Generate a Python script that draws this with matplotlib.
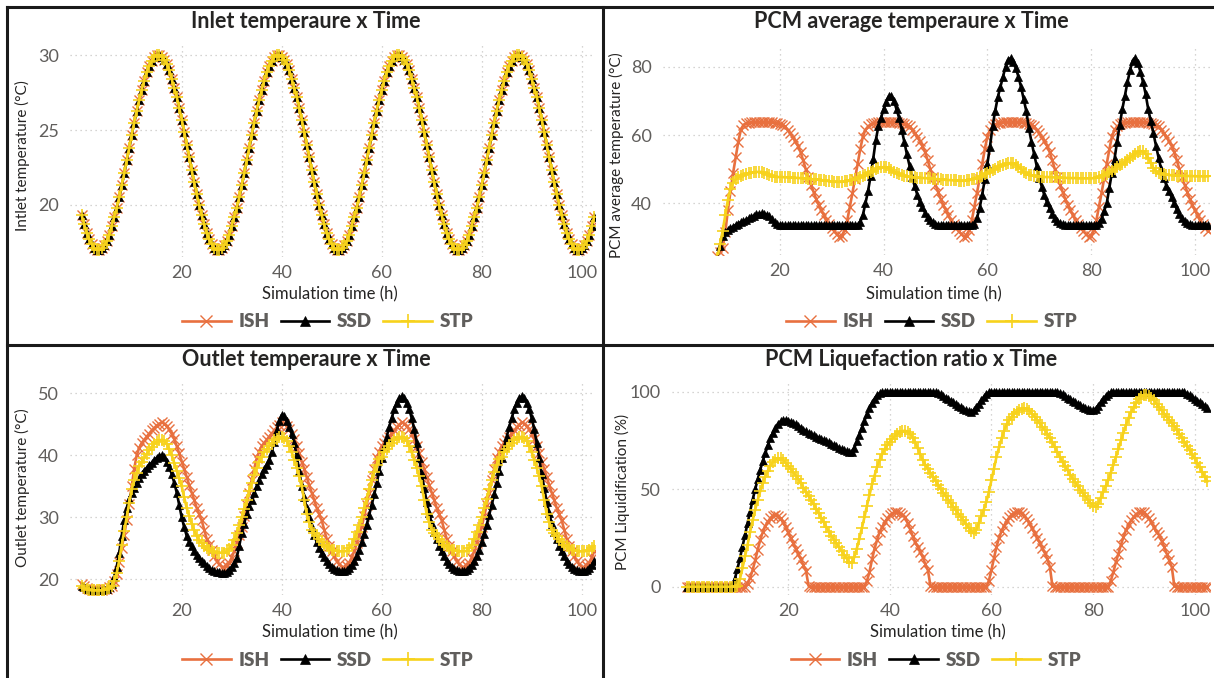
import numpy as np
import matplotlib
matplotlib.use("Agg")
import matplotlib.pyplot as plt
from matplotlib.lines import Line2D

plt.rcParams['font.family'] = ['Lato', 'DejaVu Sans']

# simulation time, one sample every half hour
hours = np.arange(0, 103, 0.5)

series_names = ['ISH', 'SSD', 'STP']

# inlet temperature (same for the three strategies)
inlet_ish = [
    19.3, 18.7, 18.1, 17.7, 17.4, 17.1, 17.0, 17.0, 17.1, 17.3, 17.6, 18.0, 18.6, 19.2, 19.8, 20.5, 21.3, 22.1, 23.0, 23.8, 24.7, 25.5, 26.3, 27.0,
    27.7, 28.3, 28.9, 29.3, 29.6, 29.9, 30.0, 30.0, 29.9, 29.7, 29.4, 29.0, 28.4, 27.8, 27.2, 26.5, 25.7, 24.9, 24.0, 23.2, 22.3, 21.5, 20.7, 20.0,
    19.3, 18.7, 18.1, 17.7, 17.4, 17.1, 17.0, 17.0, 17.1, 17.3, 17.6, 18.0, 18.6, 19.2, 19.8, 20.5, 21.3, 22.1, 23.0, 23.8, 24.7, 25.5, 26.3, 27.0,
    27.7, 28.3, 28.9, 29.3, 29.6, 29.9, 30.0, 30.0, 29.9, 29.7, 29.4, 29.0, 28.4, 27.8, 27.2, 26.5, 25.7, 24.9, 24.0, 23.2, 22.3, 21.5, 20.7, 20.0,
    19.3, 18.7, 18.1, 17.7, 17.4, 17.1, 17.0, 17.0, 17.1, 17.3, 17.6, 18.0, 18.6, 19.2, 19.8, 20.5, 21.3, 22.1, 23.0, 23.8, 24.7, 25.5, 26.3, 27.0,
    27.7, 28.3, 28.9, 29.3, 29.6, 29.9, 30.0, 30.0, 29.9, 29.7, 29.4, 29.0, 28.4, 27.8, 27.2, 26.5, 25.7, 24.9, 24.0, 23.2, 22.3, 21.5, 20.7, 20.0,
    19.3, 18.7, 18.1, 17.7, 17.4, 17.1, 17.0, 17.0, 17.1, 17.3, 17.6, 18.0, 18.6, 19.2, 19.8, 20.5, 21.3, 22.1, 23.0, 23.8, 24.7, 25.5, 26.3, 27.0,
    27.7, 28.3, 28.9, 29.3, 29.6, 29.9, 30.0, 30.0, 29.9, 29.7, 29.4, 29.0, 28.4, 27.8, 27.2, 26.5, 25.7, 24.9, 24.0, 23.2, 22.3, 21.5, 20.7, 20.0,
    19.3, 18.7, 18.1, 17.7, 17.4, 17.1, 17.0, 17.0, 17.1, 17.3, 17.6, 18.0, 18.6, 19.2,
]
inlet_ssd = list(inlet_ish)
inlet_stp = list(inlet_ish)

# outlet temperature
outlet_ish = [
    19.3, 18.9, 18.6, 18.4, 18.3, 18.3, 18.3, 18.3, 18.3, 18.4, 18.5, 18.7, 19.0, 19.7, 20.8, 22.8, 25.0, 27.2, 29.5, 32.2, 35.0, 37.8, 40.0, 41.2,
    42.0, 42.5, 43.0, 43.5, 44.0, 44.4, 44.8, 45.1, 45.3, 45.1, 44.8, 44.2, 43.5, 42.6, 41.5, 40.3, 39.0, 37.8, 36.5, 35.2, 34.0, 32.8, 31.5, 30.5,
    29.5, 28.0, 26.5, 25.6, 24.8, 23.8, 23.0, 22.4, 22.0, 21.9, 22.2, 22.7, 23.5, 24.5, 25.8, 27.1, 28.5, 30.2, 32.0, 34.0, 36.0, 37.8, 39.5, 40.6,
    41.5, 42.0, 42.5, 43.0, 43.5, 44.0, 44.5, 44.9, 45.3, 45.1, 44.8, 44.2, 43.5, 42.6, 41.5, 40.3, 39.0, 37.8, 36.5, 35.2, 34.0, 32.8, 31.5, 30.5,
    29.5, 28.0, 26.5, 25.4, 24.5, 23.7, 23.0, 22.4, 22.0, 21.9, 22.2, 22.7, 23.5, 24.5, 25.8, 27.1, 28.5, 30.2, 32.0, 34.0, 36.0, 37.8, 39.5, 40.6,
    41.5, 42.0, 42.5, 43.0, 43.5, 44.0, 44.5, 44.9, 45.3, 45.1, 44.8, 44.2, 43.5, 42.6, 41.5, 40.3, 39.0, 37.8, 36.5, 35.2, 34.0, 32.8, 31.5, 30.5,
    29.5, 28.0, 26.5, 25.4, 24.5, 23.7, 23.0, 22.4, 22.0, 21.9, 22.2, 22.7, 23.5, 24.5, 25.8, 27.1, 28.5, 30.2, 32.0, 34.0, 36.0, 37.8, 39.5, 40.6,
    41.5, 42.0, 42.5, 43.0, 43.5, 44.0, 44.5, 44.9, 45.3, 45.1, 44.8, 44.2, 43.5, 42.6, 41.5, 40.3, 39.0, 37.8, 36.5, 35.2, 34.0, 32.8, 31.5, 30.5,
    29.5, 28.0, 26.5, 25.4, 24.5, 23.7, 23.0, 22.4, 22.0, 21.9, 22.2, 22.7, 23.5, 24.5,
]
outlet_ssd = [
    19.0, 18.7, 18.5, 18.4, 18.3, 18.3, 18.3, 18.3, 18.3, 18.4, 18.5, 18.8, 19.3, 20.4, 22.0, 24.3, 27.0, 29.5, 31.5, 33.0, 34.0, 34.8, 35.5, 36.3,
    37.0, 37.5, 38.0, 38.4, 38.8, 39.2, 39.6, 39.9, 40.0, 39.7, 39.0, 38.1, 37.0, 35.6, 34.0, 32.0, 30.0, 28.4, 27.0, 26.0, 25.3, 24.6, 24.0, 23.5,
    23.0, 22.6, 22.2, 21.8, 21.5, 21.3, 21.2, 21.1, 21.0, 21.0, 21.2, 21.5, 22.0, 22.6, 23.5, 25.3, 27.5, 29.0, 30.5, 31.8, 32.8, 34.0, 35.0, 36.0,
    37.0, 37.8, 38.5, 39.3, 40.5, 42.2, 44.0, 45.5, 46.5, 46.3, 45.5, 44.6, 43.5, 42.0, 40.0, 37.5, 35.0, 33.2, 31.5, 30.0, 28.5, 27.2, 26.0, 25.1,
    24.3, 23.6, 23.0, 22.5, 22.0, 21.7, 21.5, 21.4, 21.3, 21.3, 21.5, 21.8, 22.3, 23.0, 23.8, 24.8, 26.0, 27.3, 28.8, 30.4, 32.0, 33.7, 35.5, 37.5,
    39.5, 41.3, 43.0, 44.6, 46.0, 47.4, 48.5, 49.2, 49.5, 49.2, 48.5, 47.4, 46.0, 44.2, 42.0, 39.5, 37.0, 34.7, 32.5, 30.7, 29.0, 27.7, 26.5, 25.4,
    24.5, 23.7, 23.0, 22.5, 22.0, 21.7, 21.5, 21.4, 21.3, 21.3, 21.5, 21.8, 22.3, 23.0, 23.8, 24.8, 26.0, 27.3, 28.8, 30.4, 32.0, 33.7, 35.5, 37.5,
    39.5, 41.3, 43.0, 44.6, 46.0, 47.4, 48.5, 49.2, 49.5, 49.2, 48.5, 47.4, 46.0, 44.2, 42.0, 39.5, 37.0, 34.7, 32.5, 30.7, 29.0, 27.7, 26.5, 25.4,
    24.5, 23.7, 23.0, 22.5, 22.0, 21.7, 21.5, 21.4, 21.3, 21.3, 21.5, 21.8, 22.3, 23.0,
]
outlet_stp = [
    19.0, 18.6, 18.4, 18.3, 18.2, 18.2, 18.2, 18.2, 18.2, 18.3, 18.4, 18.6, 19.0, 19.8, 21.0, 23.0, 25.5, 27.8, 30.0, 32.3, 34.5, 36.0, 37.2, 38.2,
    39.0, 39.6, 40.2, 40.8, 41.3, 41.8, 42.2, 42.4, 42.5, 42.3, 41.8, 41.0, 40.0, 38.8, 37.5, 36.3, 35.0, 33.2, 31.5, 30.2, 29.0, 27.9, 27.0, 26.3,
    25.8, 25.4, 25.0, 24.7, 24.5, 24.4, 24.3, 24.3, 24.3, 24.3, 24.5, 24.9, 25.5, 26.4, 27.5, 28.7, 30.0, 31.4, 32.8, 34.2, 35.5, 36.8, 38.0, 39.0,
    39.8, 40.5, 41.0, 41.5, 42.0, 42.4, 42.7, 42.9, 43.0, 42.8, 42.3, 41.5, 40.5, 39.3, 38.0, 36.6, 35.0, 32.8, 30.5, 29.2, 28.0, 27.4, 27.0, 26.5,
    26.0, 25.6, 25.3, 25.0, 24.8, 24.7, 24.6, 24.5, 24.5, 24.5, 24.6, 25.0, 25.6, 26.5, 27.6, 28.8, 30.0, 31.5, 33.0, 34.5, 36.0, 37.3, 38.5, 39.4,
    39.8, 40.5, 41.0, 41.5, 42.0, 42.4, 42.7, 42.9, 43.0, 42.8, 42.3, 41.5, 40.5, 39.3, 38.0, 36.6, 35.0, 32.8, 30.5, 29.2, 28.0, 27.4, 27.0, 26.5,
    26.0, 25.6, 25.3, 25.0, 24.8, 24.7, 24.6, 24.5, 24.5, 24.5, 24.6, 25.0, 25.6, 26.5, 27.6, 28.8, 30.0, 31.5, 33.0, 34.5, 36.0, 37.3, 38.5, 39.4,
    39.8, 40.5, 41.0, 41.5, 42.0, 42.4, 42.7, 42.9, 43.0, 42.8, 42.3, 41.5, 40.5, 39.3, 38.0, 36.6, 35.0, 32.8, 30.5, 29.2, 28.0, 27.4, 27.0, 26.5,
    26.0, 25.6, 25.3, 25.0, 24.8, 24.7, 24.6, 24.5, 24.5, 24.5, 24.6, 24.8, 25.1, 25.4,
]

# PCM average temperature (values below the axis start are not shown)
pcm_ish = [
    None, None, None, None, None, None, None, None, None, None, None, None, None, None, None, None, 24.5, 25.8, 27.0, 31.5, 38.0, 43.5, 48.8, 53.5,
    58.0, 61.5, 63.0, 63.4, 63.6, 63.7, 63.8, 63.8, 63.8, 63.8, 63.8, 63.8, 63.7, 63.7, 63.6, 63.5, 63.3, 63.0, 62.5, 61.6, 60.5, 59.4, 58.2, 56.8,
    55.0, 52.6, 50.0, 47.7, 45.5, 43.4, 41.3, 39.6, 38.0, 36.5, 35.1, 33.9, 32.8, 31.8, 31.0, 30.2, 30.5, 32.3, 35.0, 39.0, 43.0, 47.2, 51.5, 55.8,
    59.5, 61.5, 62.5, 63.1, 63.4, 63.6, 63.7, 63.8, 63.8, 63.8, 63.8, 63.8, 63.7, 63.7, 63.6, 63.5, 63.3, 63.0, 62.5, 61.6, 60.5, 59.4, 58.2, 56.8,
    55.0, 52.6, 50.0, 47.7, 45.5, 43.4, 41.3, 39.6, 38.0, 36.5, 35.1, 33.9, 32.8, 31.8, 31.0, 30.2, 30.5, 32.3, 35.0, 39.0, 43.0, 47.2, 51.5, 55.8,
    59.5, 61.5, 62.5, 63.1, 63.4, 63.6, 63.7, 63.8, 63.8, 63.8, 63.8, 63.8, 63.7, 63.7, 63.6, 63.5, 63.3, 63.0, 62.5, 61.6, 60.5, 59.4, 58.2, 56.8,
    55.0, 52.6, 50.0, 47.7, 45.5, 43.4, 41.3, 39.6, 38.0, 36.5, 35.1, 33.9, 32.8, 31.8, 31.0, 30.2, 30.5, 32.3, 35.0, 39.0, 43.0, 47.2, 51.5, 55.8,
    59.5, 61.5, 62.5, 63.1, 63.4, 63.6, 63.7, 63.8, 63.8, 63.8, 63.8, 63.8, 63.7, 63.7, 63.6, 63.5, 63.3, 63.0, 62.5, 61.6, 60.5, 59.4, 58.2, 56.8,
    55.0, 52.6, 50.0, 47.7, 45.5, 43.4, 41.3, 39.6, 38.0, 36.5, 35.1, 33.9, 32.8, 31.8,
]
pcm_ssd = [
    None, None, None, None, None, None, None, None, None, None, None, None, None, None, None, None, 24.0, 27.5, 30.5, 31.5, 32.3, 32.8, 33.2, 33.7,
    34.1, 34.5, 34.8, 35.2, 35.6, 36.0, 36.4, 36.8, 37.0, 37.1, 37.0, 36.7, 36.2, 35.3, 34.4, 33.9, 33.7, 33.7, 33.7, 33.7, 33.7, 33.7, 33.7, 33.7,
    33.7, 33.7, 33.7, 33.7, 33.7, 33.7, 33.7, 33.7, 33.7, 33.7, 33.7, 33.7, 33.7, 33.7, 33.7, 33.7, 33.7, 33.7, 33.7, 33.7, 33.7, 33.7, 33.8, 34.5,
    36.5, 40.0, 43.5, 48.0, 53.0, 58.5, 62.5, 65.0, 67.5, 69.8, 71.3, 71.5, 70.0, 67.5, 65.0, 61.5, 58.0, 54.3, 51.0, 47.8, 45.0, 42.5, 40.5, 38.8,
    37.3, 36.0, 35.0, 34.4, 34.0, 33.8, 33.7, 33.7, 33.7, 33.7, 33.7, 33.7, 33.7, 33.7, 33.7, 33.7, 33.7, 33.7, 33.7, 34.0, 35.8, 38.5, 42.5, 47.0,
    51.5, 56.5, 62.5, 67.0, 71.0, 74.0, 77.0, 80.0, 82.0, 82.5, 81.5, 79.5, 77.0, 74.0, 70.5, 67.0, 62.0, 58.0, 54.5, 51.0, 47.5, 44.8, 42.3, 40.3,
    38.5, 37.0, 35.8, 34.8, 34.2, 33.9, 33.7, 33.7, 33.7, 33.7, 33.7, 33.7, 33.7, 33.7, 33.7, 33.7, 33.7, 33.7, 33.7, 34.3, 35.5, 37.8, 40.0, 44.5,
    49.0, 53.0, 58.0, 63.0, 67.5, 71.5, 75.5, 79.0, 81.8, 82.5, 81.0, 78.5, 75.5, 72.0, 67.5, 64.0, 60.5, 56.8, 53.3, 50.0, 47.5, 45.2, 43.5, 41.8,
    40.0, 38.3, 36.8, 35.6, 34.8, 34.2, 33.9, 33.7, 33.7, 33.7, 33.7, 33.7, 33.7, 33.7,
]
pcm_stp = [
    None, None, None, None, None, None, None, None, None, None, None, None, None, None, None, None, 24.0, 28.0, 32.0, 36.5, 41.0, 44.2, 46.0, 47.0,
    47.6, 48.0, 48.3, 48.6, 48.8, 49.0, 49.1, 49.2, 49.2, 49.2, 49.0, 48.6, 48.2, 47.9, 47.8, 47.7, 47.7, 47.7, 47.6, 47.6, 47.6, 47.5, 47.5, 47.4,
    47.4, 47.3, 47.3, 47.2, 47.1, 47.0, 47.0, 46.9, 46.8, 46.7, 46.6, 46.5, 46.4, 46.3, 46.3, 46.3, 46.3, 46.4, 46.5, 46.7, 46.9, 47.1, 47.4, 47.7,
    48.0, 48.4, 48.8, 49.2, 49.6, 50.0, 50.3, 50.5, 50.6, 50.5, 50.2, 49.8, 49.3, 48.9, 48.5, 48.2, 48.0, 47.9, 47.8, 47.7, 47.6, 47.5, 47.5, 47.4,
    47.4, 47.3, 47.3, 47.2, 47.1, 47.1, 47.0, 46.9, 46.9, 46.8, 46.8, 46.7, 46.7, 46.6, 46.6, 46.6, 46.7, 46.8, 47.0, 47.2, 47.5, 47.8, 48.1, 48.5,
    48.9, 49.3, 49.7, 50.1, 50.5, 50.9, 51.2, 51.5, 51.7, 51.8, 51.7, 51.3, 50.7, 50.0, 49.3, 48.8, 48.4, 48.2, 48.0, 47.9, 47.8, 47.8, 47.7, 47.7,
    47.7, 47.6, 47.6, 47.6, 47.5, 47.5, 47.5, 47.4, 47.4, 47.4, 47.4, 47.3, 47.3, 47.3, 47.3, 47.3, 47.3, 47.4, 47.5, 47.7, 48.0, 48.3, 48.7, 49.1,
    49.6, 50.1, 50.6, 51.1, 51.6, 52.2, 52.8, 53.4, 54.0, 54.5, 55.0, 55.3, 55.2, 54.5, 53.3, 51.8, 50.3, 49.4, 49.0, 48.7, 48.5, 48.4, 48.3, 48.2,
    48.2, 48.1, 48.1, 48.1, 48.0, 48.0, 48.0, 48.0, 47.9, 47.9, 47.9, 47.9, 47.9, 47.9,
]

# PCM liquid fraction (%)
liq_ish = [
    0.0, 0.0, 0.0, 0.0, 0.0, 0.0, 0.0, 0.0, 0.0, 0.0, 0.0, 0.0, 0.0, 0.0, 0.0, 0.0, 0.0, 0.0, 0.0, 0.0, 0.0, 0.0, 0.0, 0.0,
    1.5, 4.5, 8.5, 13.5, 19.0, 24.0, 28.0, 31.0, 33.3, 35.2, 36.5, 37.0, 36.5, 35.0, 33.0, 30.5, 27.8, 25.0, 22.2, 19.5, 16.8, 14.0, 11.0, 8.2,
    0.5, 0.0, 0.0, 0.0, 0.0, 0.0, 0.0, 0.0, 0.0, 0.0, 0.0, 0.0, 0.0, 0.0, 0.0, 0.0, 0.0, 0.0, 0.0, 0.0, 0.0, 0.0, 0.0, 3.0,
    7.5, 14.0, 19.5, 24.0, 28.0, 30.5, 33.0, 35.0, 36.6, 37.7, 38.3, 38.5, 38.0, 37.0, 35.8, 32.5, 29.5, 26.0, 23.0, 20.5, 18.0, 15.0, 11.5, 8.5,
    0.5, 0.0, 0.0, 0.0, 0.0, 0.0, 0.0, 0.0, 0.0, 0.0, 0.0, 0.0, 0.0, 0.0, 0.0, 0.0, 0.0, 0.0, 0.0, 0.0, 0.0, 0.0, 0.0, 3.0,
    8.5, 14.5, 20.5, 25.0, 28.5, 31.3, 33.5, 35.5, 37.0, 38.0, 38.4, 38.5, 38.0, 36.5, 34.5, 32.5, 30.0, 27.5, 25.0, 22.5, 20.0, 17.3, 14.3, 10.3,
    0.5, 0.0, 0.0, 0.0, 0.0, 0.0, 0.0, 0.0, 0.0, 0.0, 0.0, 0.0, 0.0, 0.0, 0.0, 0.0, 0.0, 0.0, 0.0, 0.0, 0.0, 0.0, 0.0, 3.0,
    7.5, 12.5, 17.0, 21.5, 25.5, 29.0, 31.8, 34.0, 35.8, 37.2, 38.2, 38.5, 38.2, 37.0, 35.3, 33.0, 30.5, 28.0, 26.5, 23.5, 20.5, 17.0, 13.5, 10.3,
    0.5, 0.0, 0.0, 0.0, 0.0, 0.0, 0.0, 0.0, 0.0, 0.0, 0.0, 0.0, 0.0, 0.0,
]
liq_ssd = [
    0.0, 0.0, 0.0, 0.0, 0.0, 0.0, 0.0, 0.0, 0.0, 0.0, 0.0, 0.0, 0.0, 0.0, 0.0, 0.0, 0.0, 0.0, 0.5, 4.0, 9.0, 14.5, 20.5, 26.5,
    32.5, 38.5, 44.5, 50.0, 55.0, 60.0, 64.5, 68.5, 72.5, 76.0, 79.0, 81.5, 83.5, 84.8, 85.4, 85.5, 85.2, 84.7, 84.0, 83.2, 82.4, 81.5, 80.6, 79.7,
    78.9, 78.2, 77.6, 77.0, 76.4, 75.8, 75.2, 74.6, 74.0, 73.3, 72.6, 71.9, 71.2, 70.5, 69.9, 69.4, 69.1, 69.2, 71.0, 74.5, 78.0, 81.5, 85.0, 88.5,
    91.5, 94.3, 96.5, 98.2, 99.2, 99.8, 100, 100, 100, 100, 100, 100, 100, 100, 100, 100, 100, 100, 100, 100, 100, 100, 100, 100,
    100, 100, 99.8, 99.3, 98.6, 97.8, 97.0, 96.2, 95.4, 94.6, 93.7, 92.8, 92.0, 91.2, 90.5, 90.0, 89.8, 90.5, 92.0, 93.8, 95.5, 97.3, 98.8, 99.7,
    100, 100, 100, 100, 100, 100, 100, 100, 100, 100, 100, 100, 100, 100, 100, 100, 100, 100, 100, 100, 100, 100, 100, 100,
    100, 100, 99.8, 99.3, 98.6, 97.8, 97.0, 96.2, 95.4, 94.6, 93.8, 93.0, 92.3, 91.6, 91.0, 90.6, 90.5, 91.3, 92.8, 94.5, 96.2, 97.8, 99.0, 99.8,
    100, 100, 100, 100, 100, 100, 100, 100, 100, 100, 100, 100, 100, 100, 100, 100, 100, 100, 100, 100, 100, 100, 100, 100,
    100, 100, 100, 100, 99.7, 99.0, 98.2, 97.3, 96.4, 95.4, 94.5, 93.5, 92.5, 91.5,
]
liq_stp = [
    0.0, 0.0, 0.0, 0.0, 0.0, 0.0, 0.0, 0.0, 0.0, 0.0, 0.0, 0.0, 0.0, 0.0, 0.0, 0.0, 0.0, 0.0, 0.0, 0.0, 0.5, 4.0, 9.5, 15.5,
    21.5, 28.0, 34.0, 39.5, 44.5, 49.0, 53.0, 56.5, 59.5, 62.0, 64.0, 65.2, 65.8, 65.8, 65.0, 63.5, 62.0, 60.3, 58.6, 57.0, 55.2, 53.0, 50.8, 48.7,
    46.6, 44.5, 42.3, 40.0, 37.7, 35.4, 33.0, 30.7, 28.3, 26.2, 24.2, 22.2, 20.2, 18.3, 16.4, 14.5, 12.6, 12.2, 15.0, 19.5, 24.5, 30.0, 35.5, 41.5,
    47.0, 52.5, 57.0, 61.5, 65.0, 68.0, 70.5, 72.5, 74.3, 75.9, 77.2, 78.3, 79.2, 79.8, 80.0, 79.5, 78.5, 76.5, 74.0, 71.0, 67.8, 64.8, 62.5, 60.5,
    58.5, 56.4, 54.3, 52.2, 50.2, 48.3, 46.4, 44.5, 42.7, 40.9, 39.2, 37.5, 35.8, 34.0, 32.2, 30.3, 28.5, 27.3, 29.0, 32.5, 36.0, 39.5, 43.5, 48.5,
    54.5, 60.5, 66.5, 71.5, 76.0, 80.0, 83.2, 85.5, 87.2, 88.6, 89.8, 90.8, 91.3, 91.5, 91.2, 90.2, 88.8, 87.2, 85.5, 83.8, 82.0, 80.5, 78.5, 76.3,
    74.0, 71.5, 69.0, 66.5, 64.0, 61.8, 59.6, 57.5, 55.4, 53.5, 51.6, 49.8, 48.0, 46.3, 44.6, 43.0, 41.5, 41.0, 42.5, 45.5, 48.5, 51.5, 54.7, 58.5,
    62.5, 66.5, 70.5, 75.0, 79.0, 83.0, 86.5, 89.5, 92.0, 94.2, 96.0, 97.5, 98.3, 98.5, 98.0, 97.0, 95.6, 93.8, 92.0, 90.4, 88.8, 87.2, 85.6, 84.0,
    82.3, 80.5, 78.5, 76.4, 74.3, 72.2, 70.1, 68.0, 65.8, 63.5, 61.2, 58.8, 56.4, 54.0,
]

W, H = 1214, 678
fig = plt.figure(figsize=(W / 100, H / 100), dpi=100)
fig.patch.set_facecolor('white')

TITLE_C = '#252423'
TICK_C = '#605E5C'
GRID_C = '#C8C6C4'

styles = {
    'ISH': dict(color='#E8703F', marker='x', markersize=7, markeredgewidth=1.0, linewidth=1.9),
    'SSD': dict(color='#000000', marker='^', markersize=5.4, markeredgewidth=0.5, linewidth=1.9),
    'STP': dict(color='#F7D21C', marker='+', markersize=8.5, markeredgewidth=1.2, linewidth=1.9),
}

# data, title, ylabel, axes box in px (left, top, right, bottom), xlim, ylim, yticks,
# ylabel x, ylabel y, legend y
panels = [
    (dict(ISH=inlet_ish, SSD=inlet_ssd, STP=inlet_stp), 'Inlet temperaure x Time',
     'Intlet temperature (°C)', (70, 45, 595, 257), (-2.34, 102.66), (16.53, 30.67),
     [20, 25, 30], 22, 156, 322),
    (dict(ISH=pcm_ish, SSD=pcm_ssd, STP=pcm_stp), 'PCM average temperaure x Time',
     'PCM average temperature (°C)', (663, 45, 1210, 255), (-2.5, 102.9), (24.88, 86.35),
     [40, 60, 80], 616, 155, 322),
    (dict(ISH=outlet_ish, SSD=outlet_ssd, STP=outlet_stp), 'Outlet temperaure x Time',
     'Outlet temperature (°C)', (70, 383, 595, 595), (-2.34, 102.66), (17.47, 51.66),
     [20, 30, 40, 50], 22, 488, 660),
    (dict(ISH=liq_ish, SSD=liq_ssd, STP=liq_stp), 'PCM Liquefaction ratio x Time',
     'PCM Liquidification (%)', (672, 383, 1210, 595), (-2.87, 103.03), (-4.26, 104.46),
     [0, 50, 100], 622, 492, 660),
]

for data, title, ylabel, box, xlim, ylim, yticks, ylx, yly, legy in panels:
    l, t, r, b = box
    ax = fig.add_axes([l / W, 1 - b / H, (r - l) / W, (b - t) / H])
    handles = []
    for name in series_names:
        vals = np.array(data[name], dtype=float)
        h, = ax.plot(hours, vals, label=name, **styles[name])
        handles.append(h)
    ax.set_xlim(*xlim)
    ax.set_ylim(*ylim)
    ax.set_xticks([20, 40, 60, 80, 100])
    ax.set_yticks(yticks)
    for s in ax.spines.values():
        s.set_visible(False)
    ax.tick_params(length=0, labelsize=13, labelcolor=TICK_C)
    ax.tick_params(axis='x', pad=6)
    ax.tick_params(axis='y', pad=8)
    ax.grid(True, color=GRID_C, linestyle=(0, (1, 3)), linewidth=0.9)
    ax.set_axisbelow(True)

    cx = (l + r) / 2
    tx = 306 if l < 300 else 911
    fig.text(tx / W, 1 - (t - 24) / H, title, ha='center', va='center',
             fontsize=15.5, fontweight='bold', color=TITLE_C)
    fig.text(ylx / W, 1 - yly / H, ylabel, rotation=90, ha='center', va='center',
             fontsize=11, color=TITLE_C)
    fig.text((cx - 3) / W, 1 - (legy - 28) / H, 'Simulation time (h)', ha='center',
             va='center', fontsize=12, color=TITLE_C)
    leg = fig.legend(handles=handles, loc='center', bbox_to_anchor=((cx - 5) / W, 1 - legy / H),
                     ncol=3, frameon=False, handlelength=2.6, handletextpad=0.4,
                     columnspacing=0.6, markerscale=1.25,
                     prop={'weight': 'heavy', 'size': 13.5})
    for txt in leg.get_texts():
        txt.set_color(TICK_C)

# panel frame lines
frame = dict(color='#1A1A1A', linewidth=2.2, transform=fig.transFigure)
fig.add_artist(Line2D([7 / W, 7 / W], [0, 1 - 7 / H], **frame))
fig.add_artist(Line2D([7 / W, 1], [1 - 7 / H, 1 - 7 / H], **frame))
fig.add_artist(Line2D([602.5 / W, 602.5 / W], [0, 1 - 7 / H], **frame))
fig.add_artist(Line2D([7 / W, 1], [1 - 345 / H, 1 - 345 / H], **frame))

fig.savefig('out.png', dpi=100, facecolor='white')
